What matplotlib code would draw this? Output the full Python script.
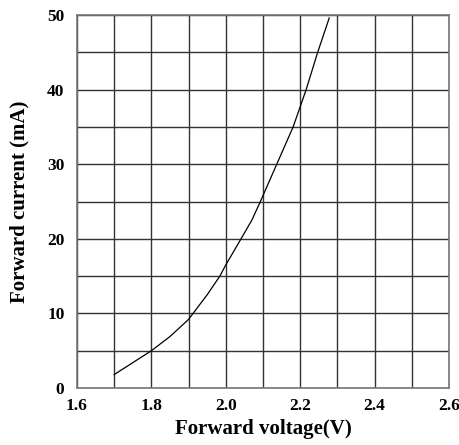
import matplotlib
matplotlib.use("Agg")
import matplotlib.pyplot as plt
import numpy as np

voltage = [1.70, 1.75, 1.80, 1.85, 1.90, 1.912, 1.95, 1.984, 2.00, 2.041, 2.07, 2.093, 2.137, 2.181, 2.216, 2.247, 2.278]
current = [1.8, 3.4, 5.0, 6.9, 9.2, 10.0, 12.5, 15.0, 16.5, 20.0, 22.5, 25.0, 30.0, 35.0, 40.0, 45.0, 49.6]
xticks = [1.6, 1.8, 2.0, 2.2, 2.4, 2.6]
yticks = [0, 10, 20, 30, 40, 50]

plt.rcParams['font.family'] = ['Liberation Serif', 'DejaVu Serif']
plt.rcParams['font.weight'] = 'bold'

fig = plt.figure(figsize=(4.59, 4.45), dpi=100)
ax = fig.add_axes([77/459, (445-388)/445, (449-77)/459, (388-15)/445])

ax.plot(voltage, current, color='black', lw=0.9)
ax.set_xlim(1.6, 2.6)
ax.set_ylim(0, 50)
ax.set_xticks(xticks)
ax.set_xticklabels([f"{v:.1f}" for v in xticks], fontsize=12.5, fontweight='bold')
ax.set_yticks(yticks)
ax.set_yticklabels([str(v) for v in yticks], fontsize=12.5, fontweight='bold')
ax.set_xticks(np.arange(1.6, 2.61, 0.1), minor=True)
ax.set_yticks(np.arange(0, 50.1, 5), minor=True)
ax.grid(True, which='both', color='#333333', lw=1.0)
ax.tick_params(which='both', length=0)
ax.tick_params(axis='x', pad=7)
ax.tick_params(axis='y', pad=9)
for s in ax.spines.values():
    s.set_color('#777777')
    s.set_linewidth(1.2)
ax.set_xlabel('Forward voltage(V)', fontsize=15, fontweight='bold', labelpad=4)
ax.set_ylabel('Forward current (mA)', fontsize=15, fontweight='bold', labelpad=13)
ax.set_axisbelow(True)

fig.savefig('out.png', dpi=100)
